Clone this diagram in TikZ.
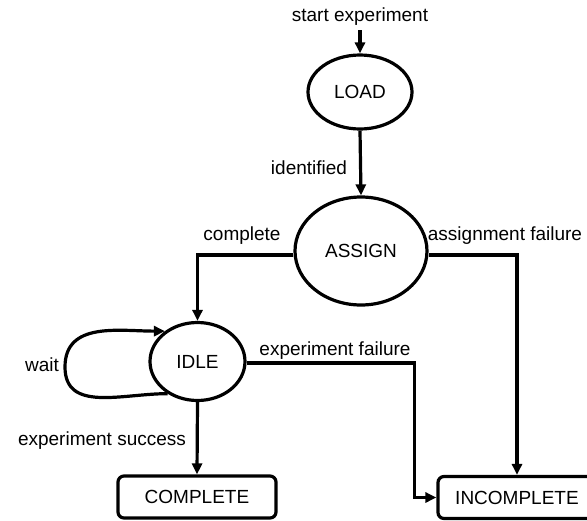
\documentclass[tikz,border=0pt]{standalone}
\usepackage{fontspec}
\setmainfont{Liberation Sans}
\usetikzlibrary{arrows.meta,shapes.geometric}
\begin{document}
\begin{tikzpicture}[x=1pt,y=-1pt, font=\fontsize{19}{22}\selectfont,
  line width=3.2pt,
  state/.style={ellipse,draw,inner sep=0pt},
  final/.style={draw,rounded corners=6pt,minimum width=158pt,minimum height=42pt,inner sep=0pt},
  arr/.style={-{Triangle[length=11pt,width=10pt]}},
  lbl/.style={anchor=base,inner sep=0pt}]
\clip (0,0) rectangle (587,520);
\node[state,minimum width=104pt,minimum height=74pt] (load) at (360,92) {LOAD};
\node[state,minimum width=132pt,minimum height=108pt] (assign) at (361,251) {ASSIGN};
\node[state,minimum width=95pt,minimum height=78pt] (idle) at (197.5,361.5) {IDLE};
\node[final] (complete) at (197,497) {COMPLETE};
\node[final] (incomplete) at (517,497.5) {INCOMPLETE};

\node[lbl] (tstart) at (360,21) {start experiment};
\node[lbl] (tident) at (309,174) {identified};
\node[lbl] (tcomp) at (242,240) {complete};
\node[lbl] (tafail) at (505,240) {assignment failure};
\node[lbl] (twait) at (42,371) {wait};
\node[lbl] (tefail) at (335,355) {experiment failure};
\node[lbl] (tesucc) at (102,445) {experiment success};

\coordinate (s0) at (360,30);
\coordinate (loopL) at (65,367);
\draw[arr] (s0) -- (load.north);
\draw[arr] (load.south) -- (assign.north);
\draw[arr] ([yshift=-4pt]assign.west) -| (idle.north);
\draw[arr] ([yshift=-4pt]assign.east) -| (incomplete.north);
\draw[arr] ([yshift=-1.5pt]idle.east) -- ++(168,0) |- (incomplete.west);
\draw[arr] (idle.south) -- (complete.north);
\draw[arr] (idle.-133) to[out=180,in=-90,looseness=1.1] (loopL) to[out=90,in=180,looseness=1.1] (idle.137);
\end{tikzpicture}
\end{document}
